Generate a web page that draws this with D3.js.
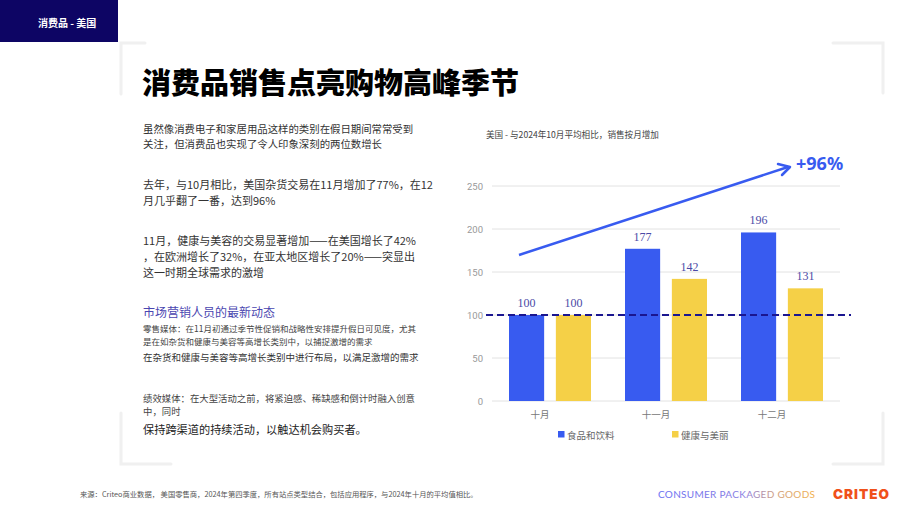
<!DOCTYPE html>
<html><head><meta charset="utf-8">
<script src="https://cdn.jsdelivr.net/npm/d3@7"></script>
<style>
html,body{margin:0;padding:0;background:#fff;}
svg{display:block;font-family:"Noto Sans CJK SC","Noto Sans",sans-serif;}
</style></head>
<body>
<svg id="c" width="920" height="518"></svg>
<script>
const categories = ["十月", "十一月", "十二月"];
const seriesNames = ["食品和饮料", "健康与美丽"];
const foodValues = [100, 177, 196];
const beautyValues = [100, 142, 131];
const yTicks = [0, 50, 100, 150, 200, 250];
const baseline = 100;

const svg = d3.select("#c");
const blue = "#385bf0", yellow = "#f5d047", navy = "#0d0564";

// header tab
svg.append("rect").attr("x",0).attr("y",0).attr("width",118).attr("height",42).attr("fill",navy);
svg.append("text").attr("x",38).attr("y",22).attr("dominant-baseline","central")
  .attr("fill","#fff").attr("font-size",10).attr("font-weight",700).text("消费品 - 美国");

// corner brackets
const bc = "#f0f0f0";
const br = [
  [[121,94],[121,43],[145,43]],
  [[833,43],[883,43],[883,93]],
  [[121,413],[121,464],[171,464]],
  [[833,464],[883,464],[883,413]]
];
br.forEach(p=>svg.append("path").attr("d",d3.line()(p)).attr("fill","none")
  .attr("stroke",bc).attr("stroke-width",3).attr("stroke-linecap","round"));

// title
svg.append("text").attr("x",142).attr("y",81).attr("dominant-baseline","central")
  .attr("font-size",29).attr("font-weight",900).attr("fill","#000").text("消费品销售点亮购物高峰季节");

// left texts
const lt = [
  {t:"虽然像消费电子和家居用品这样的类别在假日期间常常受到", y:128, s:10.4, c:"#333"},
  {t:"关注，但消费品也实现了令人印象深刻的两位数增长", y:143, s:10.4, c:"#333"},
  {t:"去年，与10月相比，美国杂货交易在11月增加了77%，在12", y:184, s:11, c:"#333"},
  {t:"月几乎翻了一番，达到96%", y:200, s:11, c:"#333"},
  {t:"11月，健康与美容的交易显著增加——在美国增长了42%", y:240, s:11, c:"#333"},
  {t:"，在欧洲增长了32%，在亚太地区增长了20%——突显出", y:256, s:11, c:"#333"},
  {t:"这一时期全球需求的激增", y:272, s:11, c:"#333"},
  {t:"市场营销人员的最新动态", y:311, s:12, c:"#4a46b0"},
  {t:"零售媒体：在11月初通过季节性促销和战略性安排提升假日可见度，尤其", y:328, s:8.5, c:"#444"},
  {t:"是在如杂货和健康与美容等高增长类别中，以捕捉激增的需求", y:341, s:8.5, c:"#444"},
  {t:"在杂货和健康与美容等高增长类别中进行布局，以满足激增的需求", y:357, s:9.5, c:"#333"},
  {t:"绩效媒体：在大型活动之前，将紧迫感、稀缺感和倒计时融入创意", y:398, s:9.4, c:"#444"},
  {t:"中，同时", y:411, s:9.4, c:"#444"},
  {t:"保持跨渠道的持续活动，以触达机会购买者。", y:429, s:11.2, c:"#222"}
];
lt.forEach(d=>svg.append("text").attr("x",143).attr("y",d.y).attr("dominant-baseline","central")
  .attr("font-size",d.s).attr("fill",d.c).text(d.t));

// chart
svg.append("text").attr("x",486).attr("y",134).attr("dominant-baseline","central")
  .attr("font-size",8.6).attr("fill","#444").text("美国 - 与2024年10月平均相比，销售按月增加");

const x0 = d3.scaleBand().domain(categories).range([492,840]);
const x1 = d3.scaleBand().domain(seriesNames).range([17,99]).paddingInner(0.25);
const y = d3.scaleLinear().domain([0,250]).range([401,186]);

// grid
const g = svg.append("g");
g.selectAll("line.grid").data(yTicks).join("line")
  .attr("x1",492).attr("x2",840).attr("y1",d=>y(d)).attr("y2",d=>y(d))
  .attr("stroke","#e2e2e2").attr("stroke-width",1);
g.selectAll("text.yt").data(yTicks).join("text")
  .attr("x",483).attr("y",d=>y(d)).attr("text-anchor","end").attr("dominant-baseline","central")
  .attr("font-size",9.5).attr("fill","#999").attr("font-family","Roboto, sans-serif").text(d=>d);

const rows = categories.map((c,i)=>({cat:c, vals:[foodValues[i], beautyValues[i]]}));
const colors = [blue, yellow];
rows.forEach(r=>{
  r.vals.forEach((v,j)=>{
    const xx = x0(r.cat)+x1(seriesNames[j]);
    svg.append("rect").attr("x",xx).attr("y",y(v)).attr("width",x1.bandwidth())
      .attr("height",y(0)-y(v)).attr("fill",colors[j]);
    svg.append("text").attr("x",xx+x1.bandwidth()/2).attr("y",y(v)-12)
      .attr("text-anchor","middle").attr("dominant-baseline","central")
      .attr("font-family","'Liberation Serif', serif").attr("font-size",12)
      .attr("fill","#4b4aa6").text(v);
  });
});
// x axis labels
svg.selectAll("text.xt").data(categories).join("text")
  .attr("x",d=>x0(d)+x0.bandwidth()/2-10).attr("y",414).attr("text-anchor","middle")
  .attr("dominant-baseline","central").attr("font-size",9.5).attr("fill","#777").text(d=>d);

// baseline dashed
svg.append("line").attr("x1",486).attr("x2",851).attr("y1",y(baseline)).attr("y2",y(baseline))
  .attr("stroke","#1a1690").attr("stroke-width",2).attr("stroke-dasharray","7,4");

// arrow
svg.append("line").attr("x1",519).attr("y1",255).attr("x2",788).attr("y2",167)
  .attr("stroke",blue).attr("stroke-width",2.5);
svg.append("path").attr("d","M778,164 L790,167 L782,175").attr("fill","none")
  .attr("stroke",blue).attr("stroke-width",2.5).attr("stroke-linecap","round").attr("stroke-linejoin","round");
svg.append("text").attr("x",796).attr("y",163).attr("dominant-baseline","central")
  .attr("font-size",18).attr("font-weight",700).attr("fill",blue)
  .attr("font-family","'Noto Sans', sans-serif").text("+96%");

// legend
const leg = [{x:558,c:blue,t:seriesNames[0]},{x:672,c:yellow,t:seriesNames[1]}];
leg.forEach(l=>{
  svg.append("rect").attr("x",l.x).attr("y",431).attr("width",6.5).attr("height",6.5).attr("fill",l.c);
  svg.append("text").attr("x",l.x+9).attr("y",434.5).attr("dominant-baseline","central")
    .attr("font-size",9.5).attr("fill","#666").text(l.t);
});

// footer
svg.append("text").attr("x",80).attr("y",494).attr("dominant-baseline","central")
  .attr("font-size",7.3).attr("fill","#555")
  .text("来源：Criteo商业数据， 美国零售商，2024年第四季度，所有站点类型结合，包括应用程序，与2024年十月的平均值相比。");
const defs = svg.append("defs");
const gr = defs.append("linearGradient").attr("id","cpg").attr("x1","0").attr("x2","1");
gr.append("stop").attr("offset","0").attr("stop-color","#6a70f2");
gr.append("stop").attr("offset","0.55").attr("stop-color","#8a7ee0");
gr.append("stop").attr("offset","0.75").attr("stop-color","#d0a080");
gr.append("stop").attr("offset","1").attr("stop-color","#f2b050");
svg.append("text").attr("x",658).attr("y",494).attr("dominant-baseline","central")
  .attr("font-size",10).attr("font-weight",400).attr("fill","url(#cpg)")
  .attr("font-family","Lato, 'Open Sans', sans-serif").attr("textLength",157).text("CONSUMER PACKAGED GOODS");
svg.append("text").attr("x",833).attr("y",494).attr("dominant-baseline","central")
  .attr("font-size",13.5).attr("font-weight",900).attr("fill","#f0501a")
  .attr("font-family","Inter, 'Noto Sans', sans-serif").attr("textLength",56).text("CRITEO");
</script>
</body></html>
